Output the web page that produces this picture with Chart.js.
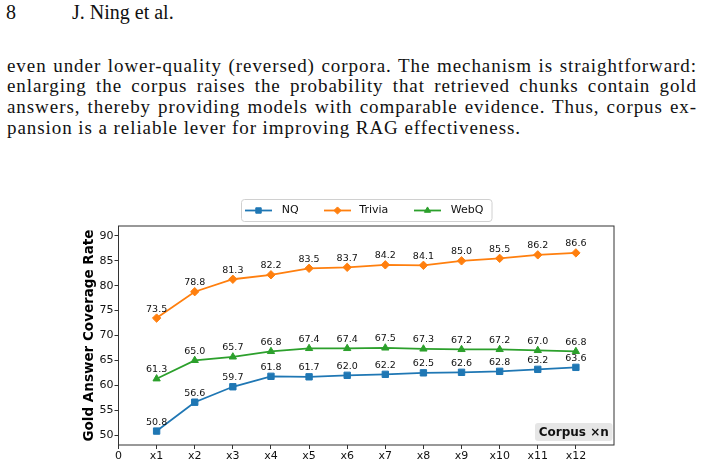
<!DOCTYPE html>
<html>
<head>
<meta charset="utf-8">
<script src="https://cdn.jsdelivr.net/npm/chart.js@4/dist/chart.umd.min.js"></script>
<style>
  html, body { margin:0; padding:0; background:#fff; }
  body { width:704px; height:465px; position:relative; overflow:hidden; }
  .serif { font-family:"Liberation Serif","Times New Roman",serif; color:#111; font-size:19px; }
  #hdr8 { position:absolute; left:6px; top:1px; font-size:20px; }
  #hdrA { position:absolute; left:72px; top:1px; font-size:20px; }
  #para { position:absolute; left:7px; top:55.5px; width:690px; line-height:20.76px; }
  .ln { white-space:nowrap; text-align:justify; text-align-last:justify; }
  .ln.last { text-align-last:left; }
  #wrap { position:absolute; left:0; top:190px; width:704px; height:275px; }
</style>
</head>
<body>
<div id="hdr8" class="serif">8</div>
<div id="hdrA" class="serif">J. Ning et al.</div>
<div id="para" class="serif">
  <div class="ln">even under lower-quality (reversed) corpora. The mechanism is straightforward:</div>
  <div class="ln">enlarging the corpus raises the probability that retrieved chunks contain gold</div>
  <div class="ln">answers, thereby providing models with comparable evidence. Thus, corpus ex-</div>
  <div class="ln last"><span id="lastspan">pansion is a reliable lever for improving RAG effectiveness.</span></div>
</div>
<div id="wrap"><canvas id="c" width="704" height="275"></canvas></div>
<script>
// ---- data ----
const categories = ['x1','x2','x3','x4','x5','x6','x7','x8','x9','x10','x11','x12'];
const nqValues     = [50.8, 56.6, 59.7, 61.8, 61.7, 62.0, 62.2, 62.5, 62.6, 62.8, 63.2, 63.6];
const triviaValues = [73.5, 78.8, 81.3, 82.2, 83.5, 83.7, 84.2, 84.1, 85.0, 85.5, 86.2, 86.6];
const webqValues   = [61.3, 65.0, 65.7, 66.8, 67.4, 67.4, 67.5, 67.3, 67.2, 67.2, 67.0, 66.8];
const yTicks = [50, 55, 60, 65, 70, 75, 80, 85, 90];
const xTickLabels = ['0'].concat(categories);
const seriesNames = ['NQ', 'Trivia', 'WebQ'];

// ---- paragraph width tweak (letter spacing so last line matches) ----
(function(){
  const sp = document.getElementById('lastspan');
  const w = sp.getBoundingClientRect().width;
  const n = sp.textContent.length;
  const ls = (514 - w) / n;
  document.getElementById('para').style.letterSpacing = ls + 'px';
})();

const colors = ['#1f77b4', '#ff7f0e', '#2ca02c'];
const styles = ['rect', 'rectRot', 'triangle'];
const radii = [4.5, 4.2, 4.2];

function toPts(arr){ return arr.map((v,i)=>({x:i+1, y:v})); }

const datasets = [nqValues, triviaValues, webqValues].map((arr, k)=>({
  label: seriesNames[k],
  data: toPts(arr),
  borderColor: colors[k],
  backgroundColor: colors[k],
  borderWidth: 1.8,
  pointStyle: styles[k],
  pointRadius: radii[k],
  pointBorderWidth: 1,
  pointBackgroundColor: colors[k],
  pointBorderColor: colors[k],
  tension: 0,
  fill: false
}));

const FONT = '"DejaVu Sans", Verdana, sans-serif';

const decor = {
  id: 'decor',
  afterDatasetsDraw(chart){
    const ctx = chart.ctx;
    const ca = chart.chartArea;
    ctx.save();
    // value labels
    ctx.font = '9.5px ' + FONT;
    ctx.fillStyle = '#111';
    ctx.textAlign = 'center';
    ctx.textBaseline = 'middle';
    chart.data.datasets.forEach((ds, di)=>{
      const meta = chart.getDatasetMeta(di);
      meta.data.forEach((pt, i)=>{
        ctx.fillText(ds.data[i].y.toFixed(1), pt.x, pt.y - 9);
      });
    });
    // frame
    ctx.strokeStyle = '#333';
    ctx.lineWidth = 1;
    ctx.strokeRect(ca.left, ca.top, ca.right - ca.left, ca.bottom - ca.top);
    // Corpus xn box
    const bx1 = ca.right - 79, by1 = ca.bottom - 22, bw = 77.5, bh = 18;
    ctx.fillStyle = '#e6e6e6';
    ctx.beginPath();
    if (ctx.roundRect) ctx.roundRect(bx1, by1, bw, bh, 3); else ctx.rect(bx1, by1, bw, bh);
    ctx.fill();
    ctx.fillStyle = '#111';
    ctx.font = 'bold 12px ' + FONT;
    ctx.textAlign = 'center';
    ctx.fillText('Corpus \u00d7n', bx1 + bw/2, by1 + bh/2 + 0.5);
    // legend
    const lx1 = 241.5, ly1 = 9, lx2 = 492, ly2 = 31;
    ctx.fillStyle = '#fff';
    ctx.strokeStyle = '#d0d0d0';
    ctx.lineWidth = 1;
    ctx.beginPath();
    if (ctx.roundRect) ctx.roundRect(lx1, ly1 + 0.5, lx2 - lx1, ly2 - ly1, 3); else ctx.rect(lx1, ly1, lx2 - lx1, ly2 - ly1);
    ctx.fill(); ctx.stroke();
    const lineStarts = [245, 324, 414];
    const textStarts = [281.7, 359.3, 450.7];
    const cy = (ly1 + ly2) / 2 + 0.5;
    ctx.font = '11px ' + FONT;
    ctx.textAlign = 'left';
    ctx.textBaseline = 'middle';
    chart.data.datasets.forEach((ds, k)=>{
      const x0 = lineStarts[k];
      ctx.strokeStyle = ds.borderColor;
      ctx.lineWidth = 1.8;
      ctx.beginPath(); ctx.moveTo(x0, cy); ctx.lineTo(x0 + 27, cy); ctx.stroke();
      ctx.fillStyle = ds.borderColor;
      ctx.strokeStyle = ds.borderColor;
      ctx.lineWidth = 1;
      Chart.helpers.drawPoint(ctx, {pointStyle: ds.pointStyle, radius: ds.pointRadius * 0.85, rotation: 0, borderWidth: 1}, x0 + 13.5, cy);
      ctx.fillStyle = '#111';
      ctx.fillText(ds.label, textStarts[k], cy);
    });
    ctx.restore();
  }
};

new Chart(document.getElementById('c'), {
  type: 'line',
  data: { datasets },
  plugins: [decor],
  options: {
    responsive: false,
    devicePixelRatio: 1,
    animation: false,
    layout: { padding: { left: 80, top: 36, right: 90, bottom: 0 } },
    plugins: { legend: { display: false }, tooltip: { enabled: false } },
    scales: {
      x: {
        type: 'linear', min: 0, max: 13,
        afterBuildTicks: s => { s.ticks = xTickLabels.map((_, i)=>({value: i})); },
        afterFit: s => { s.height = 20; },
        ticks: {
          autoSkip: false, maxRotation: 0, padding: 1,
          color: '#111', font: { family: FONT, size: 11 },
          callback: (v, i) => xTickLabels[i]
        },
        grid: { drawOnChartArea: false, drawTicks: true, tickLength: 4, color: '#333' },
        border: { display: false }
      },
      y: {
        min: 48, max: 92,
        afterBuildTicks: s => { s.ticks = yTicks.map(v=>({value: v})); },
        afterFit: s => { s.width = 38.5; },
        ticks: { padding: 1, color: '#111', font: { family: FONT, size: 11 }, callback: v => String(v) },
        grid: { drawOnChartArea: false, drawTicks: true, tickLength: 4, color: '#333' },
        border: { display: false },
        title: {
          display: true, text: 'Gold Answer Coverage Rate', color: '#000',
          font: { family: FONT, size: 13.5, weight: 'bold' },
          padding: { top: 1, bottom: 0 }
        }
      }
    }
  }
});
</script>
</body>
</html>
